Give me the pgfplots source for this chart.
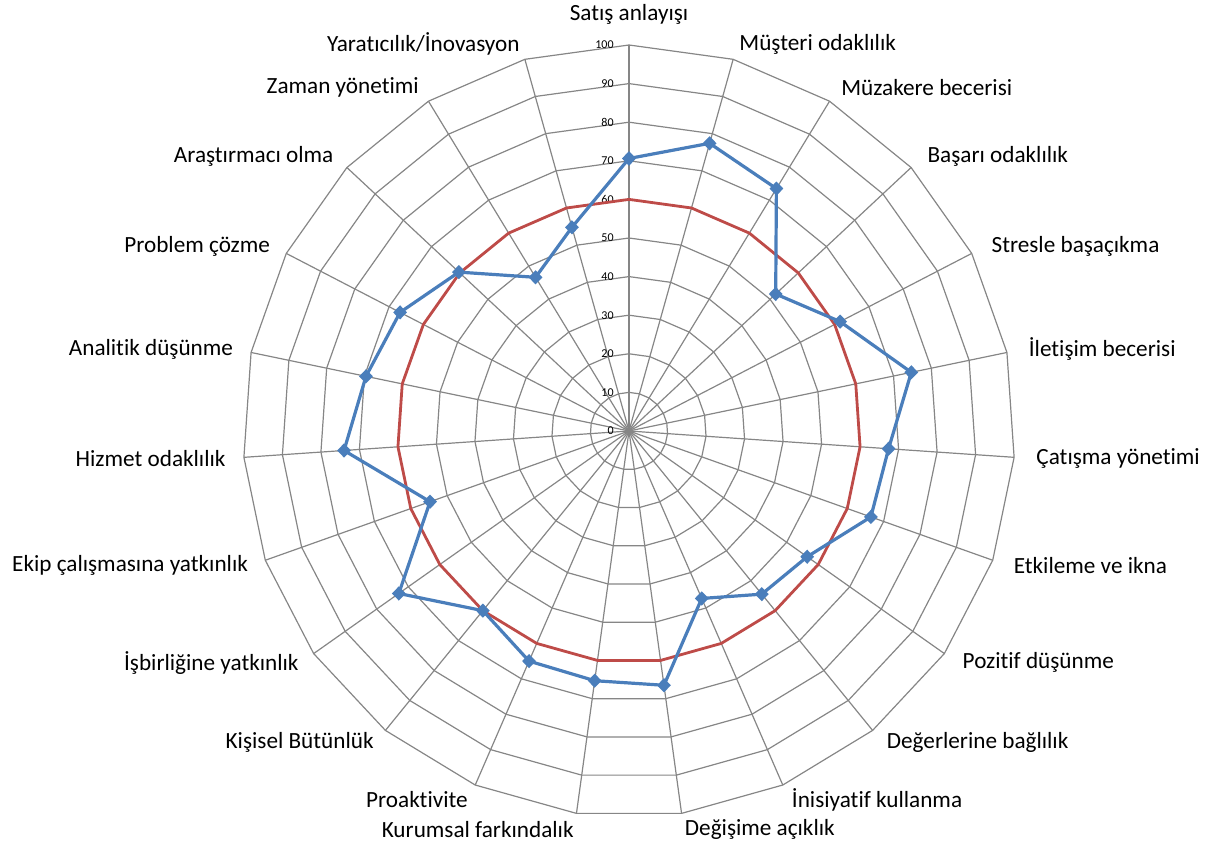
\documentclass[border=0pt]{standalone}
\usepackage{fontspec}
\setmainfont{Carlito}[Ligatures=NoCommon]
\usepackage{pgfplots}
\usepackage{pgfplotstable}
\pgfplotsset{compat=1.18}
\definecolor{gridc}{RGB}{134,134,134}
\definecolor{bl}{RGB}{74,126,187}
\definecolor{rd}{RGB}{190,75,72}

\pgfplotstableread{
k v
0 70.6
1 77.4
2 73.5
3 52
4 61.6
5 74.7
6 67.4
7 66.5
8 56.5
9 54.5
10 47.3
11 66.5
12 65.3
13 65
14 60
15 73
16 54.7
17 74
18 69.6
19 66.8
20 60.3
21 46.6
22 54.8
23 70.6
}\blueT

\pgfplotstableread{
k v
0 60
1 60
2 60
3 60
4 60
5 60
6 60
7 60
8 60
9 60
10 60
11 60
12 60
13 60
14 60
15 60
16 60
17 60
18 60
19 60
20 60
21 60
22 60
23 60
}\redT

\newcommand\labR[2]{\node[anchor=west,inner sep=0pt,xshift={11*sin(#1*360/23)},yshift={8*cos(#1*360/23)}] at (axis cs:{100*sin(#1*360/23)},{100*cos(#1*360/23)}) {#2};}
\newcommand\labL[2]{\node[anchor=east,inner sep=0pt,xshift={9*sin(#1*360/23)},yshift={8*cos(#1*360/23)}] at (axis cs:{100*sin(#1*360/23)},{100*cos(#1*360/23)}) {#2};}

\begin{document}
\begin{tikzpicture}
\begin{axis}[
  scale only axis, width=607pt, height=425pt,
  xmin=-162.95, xmax=151.55, ymin=-108.55, ymax=111.66,
  axis lines=none, clip=false, ticks=none,
  font=\fontsize{11.6}{13}\selectfont,
]
\path (axis cs:-162.95,-108.55) rectangle (axis cs:151.55,111.66);
% rings
\pgfplotsinvokeforeach{10,20,30,40,50,60,70,80,90,100}{
  \addplot[gridc, line width=0.6pt, domain=0:23, samples=24, variable=\t, forget plot]
    ({#1*sin(\t*360/23)}, {#1*cos(\t*360/23)});
}
% spokes
\pgfplotsinvokeforeach{0,...,22}{
  \draw[gridc, line width=0.6pt] (axis cs:0,0) -- (axis cs:{100*sin(#1*360/23)},{100*cos(#1*360/23)});
}
% tick labels
\pgfplotsinvokeforeach{0,10,20,30,40,50,60,70,80,90,100}{
  \node[anchor=east, inner sep=0pt, xshift=-7.5pt, font=\fontsize{6}{7}\selectfont] at (axis cs:0,#1) {#1};
}
% series
\addplot[rd, line width=1.4pt, mark=none]
  table[x expr={\thisrow{v}*sin(\thisrow{k}*360/23)}, y expr={\thisrow{v}*cos(\thisrow{k}*360/23)}] {\redT};
\addplot[bl, line width=1.6pt, mark=diamond*, mark size=2.4pt, mark options={xscale=1.3}]
  table[x expr={\thisrow{v}*sin(\thisrow{k}*360/23)}, y expr={\thisrow{v}*cos(\thisrow{k}*360/23)}] {\blueT};
% labels
\node[anchor=center, inner sep=0pt, yshift=15.5pt] at (axis cs:0,100) {Satış anlayışı};
\labR{1}{Müşteri odaklılık}
\labR{2}{Müzakere becerisi}
\labR{3}{Başarı odaklılık}
\labR{4}{Stresle başaçıkma}
\labR{5}{İletişim becerisi}
\labR{6}{Çatışma yönetimi}
\labR{7}{Etkileme ve ikna}
\labR{8}{Pozitif düşünme}
\labR{9}{Değerlerine bağlılık}
\labR{10}{İnisiyatif kullanma}
\labR{11}{Değişime açıklık}
\labL{12}{Kurumsal farkındalık}
\labL{13}{Proaktivite}
\labL{14}{Kişisel Bütünlük}
\labL{15}{İşbirliğine yatkınlık}
\labL{16}{Ekip çalışmasına yatkınlık}
\labL{17}{Hizmet odaklılık}
\labL{18}{Analitik düşünme}
\labL{19}{Problem çözme}
\labL{20}{Araştırmacı olma}
\labL{21}{Zaman yönetimi}
\labL{22}{Yaratıcılık/İnovasyon}
\end{axis}
\end{tikzpicture}
\end{document}
